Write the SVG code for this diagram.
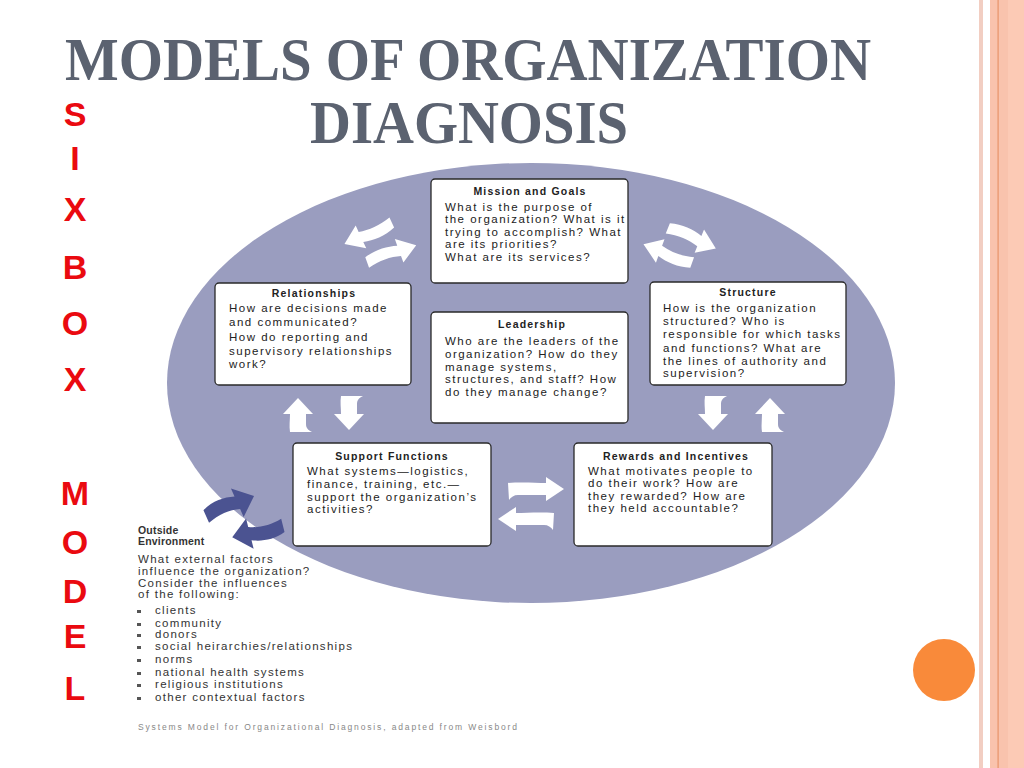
<svg xmlns="http://www.w3.org/2000/svg" width="1024" height="768" viewBox="0 0 1024 768">
<style>
.title{font-family:"Liberation Serif","Times New Roman",serif;font-weight:bold;font-size:61px;fill:#5B6270}
.red{font-family:"Liberation Sans",Arial,sans-serif;font-weight:bold;font-size:34px;fill:#EA0A10;text-anchor:middle}
.box{fill:#FFFFFF;stroke:#2A2A2A;stroke-width:1.3}
.t{font-family:"Liberation Sans",Arial,sans-serif;font-weight:bold;font-size:10.5px;fill:#222;text-anchor:middle;letter-spacing:1.2px}
.b{font-family:"Liberation Sans",Arial,sans-serif;font-size:11.5px;fill:#222;letter-spacing:1.5px}
.o{font-family:"Liberation Sans",Arial,sans-serif;font-size:11.5px;fill:#333;letter-spacing:1.3px}
.ot{font-family:"Liberation Sans",Arial,sans-serif;font-weight:bold;font-size:10.5px;fill:#333;letter-spacing:0.2px}
.cap{font-family:"Liberation Sans",Arial,sans-serif;font-size:8.5px;fill:#888}
.wa{fill:#FFFFFF}
.ba{fill:#4B5391}
.bul{fill:#555}
</style>
<defs>
<path id="arr" d="M0,-5 C12,-9 24,-8 34,-5 L34,-12 L52,1 L34,13 L34,6 C24,3 12,3 0,6 Z"/>
<path id="varr" d="M0,-8 C6,-9 12,-8 18,-8 L18,-15 L34,0 L18,15 L18,8 L8,8 C4,8 2,10 0,14 Z"/>
<path id="harr" d="M0,-6 C14,-7 28,-6 38,-6 L38,-12 L56,0 L38,12 L38,6 L10,6 C6,6 3,8 1,11 Z"/>
</defs>
<rect width="1024" height="768" fill="#FFFFFF"/>
<g id="border">
<rect x="979" y="0" width="4" height="768" fill="#F2CEC2"/>
<rect x="990" y="0" width="18" height="768" fill="#F9C3AD"/>
<rect x="1008" y="0" width="16" height="768" fill="#FCCAB5"/>
<rect x="997.5" y="0" width="1.2" height="768" fill="#E8946A"/>
<circle cx="944" cy="670" r="31" fill="#F98A3A"/>
</g>
<g id="title">
<text class="title" x="65" y="80" textLength="806" lengthAdjust="spacingAndGlyphs">MODELS OF ORGANIZATION</text>
<text class="title" x="310" y="143" textLength="318" lengthAdjust="spacingAndGlyphs">DIAGNOSIS</text>
</g>
<g id="six-box-model">
<text class="red" x="75" y="126">S</text>
<text class="red" x="75" y="170">I</text>
<text class="red" x="75" y="221">X</text>
<text class="red" x="75" y="279">B</text>
<text class="red" x="75" y="335">O</text>
<text class="red" x="75" y="391">X</text>
<text class="red" x="75" y="505">M</text>
<text class="red" x="75" y="554">O</text>
<text class="red" x="75" y="603">D</text>
<text class="red" x="75" y="648">E</text>
<text class="red" x="75" y="700">L</text>
</g>
<ellipse id="organization" cx="531" cy="383" rx="364" ry="220" fill="#9A9DBF"/>
<g id="connectors">
<use href="#arr" class="wa" transform="translate(392,223) rotate(155)"/>
<use href="#arr" class="wa" transform="translate(367,262) rotate(-20)"/>
<use href="#arr" class="wa" transform="translate(668,228) rotate(22)"/>
<use href="#arr" class="wa" transform="translate(692,263) rotate(200)"/>
<use href="#varr" class="wa" transform="translate(298,432) rotate(-90)"/>
<use href="#varr" class="wa" transform="translate(349,396) rotate(90) scale(1,-1)"/>
<use href="#varr" class="wa" transform="translate(713,396) rotate(90) scale(1,-1)"/>
<use href="#varr" class="wa" transform="translate(770,432) rotate(-90)"/>
<use href="#harr" class="wa" transform="translate(508,489)"/>
<use href="#harr" class="wa" transform="translate(554,519) rotate(180) scale(1,-1)"/>
<use href="#arr" class="ba" transform="translate(206,516) rotate(-24) scale(1.0,1.25)"/>
<use href="#arr" class="ba" transform="translate(283,526) rotate(166) scale(1.0,1.25)"/>
</g>
<g id="mission">
<rect class="box" x="431" y="179" width="197" height="104" rx="4"/>
<text class="t" x="530" y="195">Mission and Goals</text>
<text class="b" x="445" y="211">What is the purpose of</text>
<text class="b" x="445" y="223">the organization? What is it</text>
<text class="b" x="445" y="236">trying to accomplish? What</text>
<text class="b" x="445" y="248">are its priorities?</text>
<text class="b" x="445" y="261">What are its services?</text>
</g>
<g id="relationships">
<rect class="box" x="215" y="283" width="196" height="102" rx="4"/>
<text class="t" x="314" y="297">Relationships</text>
<text class="b" x="229" y="312">How are decisions made</text>
<text class="b" x="229" y="326">and communicated?</text>
<text class="b" x="229" y="341">How do reporting and</text>
<text class="b" x="229" y="355">supervisory relationships</text>
<text class="b" x="229" y="368">work?</text>
</g>
<g id="structure">
<rect class="box" x="650" y="282" width="196" height="103" rx="4"/>
<text class="t" x="748" y="296">Structure</text>
<text class="b" x="663" y="312">How is the organization</text>
<text class="b" x="663" y="325">structured? Who is</text>
<text class="b" x="663" y="338">responsible for which tasks</text>
<text class="b" x="663" y="352">and functions? What are</text>
<text class="b" x="663" y="365">the lines of authority and</text>
<text class="b" x="663" y="377">supervision?</text>
</g>
<g id="leadership">
<rect class="box" x="431" y="312" width="197" height="111" rx="4"/>
<text class="t" x="532" y="328">Leadership</text>
<text class="b" x="445" y="345">Who are the leaders of the</text>
<text class="b" x="445" y="358">organization? How do they</text>
<text class="b" x="445" y="371">manage systems,</text>
<text class="b" x="445" y="383">structures, and staff? How</text>
<text class="b" x="445" y="396">do they manage change?</text>
</g>
<g id="support">
<rect class="box" x="293" y="443" width="198" height="103" rx="4"/>
<text class="t" x="392" y="460">Support Functions</text>
<text class="b" x="307" y="475">What systems—logistics,</text>
<text class="b" x="307" y="488">finance, training, etc.—</text>
<text class="b" x="307" y="501">support the organization’s</text>
<text class="b" x="307" y="513">activities?</text>
</g>
<g id="rewards">
<rect class="box" x="574" y="443" width="198" height="103" rx="4"/>
<text class="t" x="676" y="460">Rewards and Incentives</text>
<text class="b" x="588" y="475">What motivates people to</text>
<text class="b" x="588" y="487">do their work? How are</text>
<text class="b" x="588" y="500">they rewarded? How are</text>
<text class="b" x="588" y="512">they held accountable?</text>
</g>
<g id="outside">
<text class="ot" x="138" y="534">Outside</text>
<text class="ot" x="138" y="545">Environment</text>
<text class="o" x="138" y="563">What external factors</text>
<text class="o" x="138" y="575">influence the organization?</text>
<text class="o" x="138" y="587">Consider the influences</text>
<text class="o" x="138" y="598">of the following:</text>
<rect class="bul" x="137" y="610" width="4" height="3"/>
<rect class="bul" x="137" y="623" width="4" height="3"/>
<rect class="bul" x="137" y="634" width="4" height="3"/>
<rect class="bul" x="137" y="646" width="4" height="3"/>
<rect class="bul" x="137" y="659" width="4" height="3"/>
<rect class="bul" x="137" y="672" width="4" height="3"/>
<rect class="bul" x="137" y="684" width="4" height="3"/>
<rect class="bul" x="137" y="697" width="4" height="3"/>
<text class="o" x="155" y="614">clients</text>
<text class="o" x="155" y="627">community</text>
<text class="o" x="155" y="638">donors</text>
<text class="o" x="155" y="650">social heirarchies/relationships</text>
<text class="o" x="155" y="663">norms</text>
<text class="o" x="155" y="676">national health systems</text>
<text class="o" x="155" y="688">religious institutions</text>
<text class="o" x="155" y="701">other contextual factors</text>
</g>
<text class="cap" x="138" y="730" textLength="379" lengthAdjust="spacing">Systems Model for Organizational Diagnosis, adapted from Weisbord</text>
</svg>
